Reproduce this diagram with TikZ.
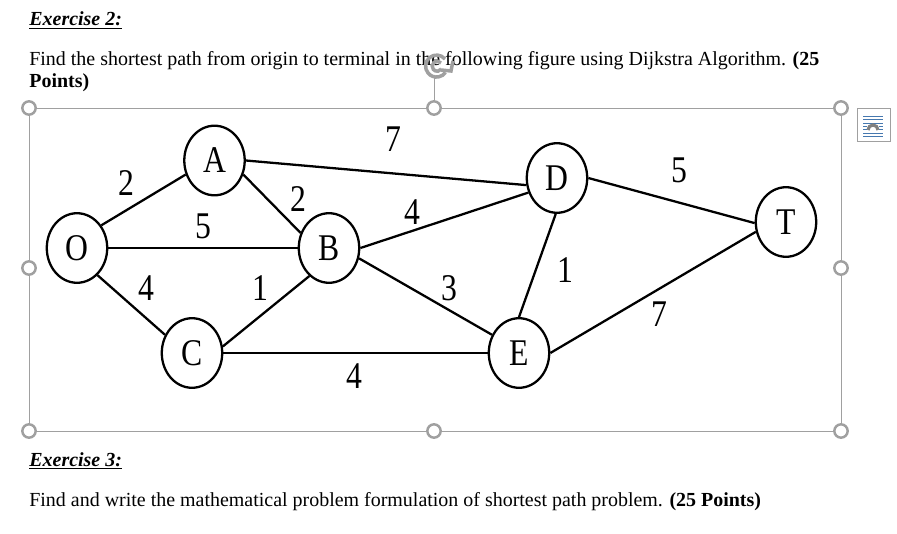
\documentclass[tikz,border=0pt]{standalone}
\usepackage{fontspec}
\usepackage{graphicx}
\setmainfont{Liberation Serif}
\usetikzlibrary{shapes.geometric}
\definecolor{handlegray}{RGB}{160,160,160}
\definecolor{iconblue}{RGB}{70,120,175}
\newcommand{\vlabel}[1]{\scalebox{0.95}[1.13]{#1}}
\newcommand{\wlabel}[1]{\scalebox{0.95}[1.13]{#1}}
\tikzset{
	vertex/.style={draw, ellipse, line width=1.3pt, minimum width=34.4pt, minimum height=39.6pt, inner sep=0pt, font=\fontsize{19}{19}\selectfont},
	edge/.style={line width=1.3pt},
	weight/.style={inner sep=0pt, font=\fontsize{19}{19}\selectfont},
	para/.style={anchor=base west, inner sep=0pt, font=\fontsize{11.36}{11.36}\selectfont},
	handle/.style={draw=handlegray, fill=white, circle, line width=1.4pt, minimum size=7.6pt, inner sep=0pt},
	frameline/.style={draw=handlegray, line width=0.5pt},
	rotline/.style={handlegray, line width=2pt}
}
\begin{document}
\begin{tikzpicture}[x=0.02cm, y=-0.02cm]
	\useasboundingbox (0,0) rectangle (897,534);
	%text above
	\node[para] (ex2) at (29,25.5) {\textbf{\textit{\underline{Exercise 2:}}}};
	\node[para] (find1) at (29,65) {Find the shortest path from origin to terminal in the following figure using Dijkstra Algorithm. \textbf{(25}};
	\node[para] (find2) at (29,88) {\textbf{Points)}};
	
	%selection frame
	\draw[frameline] (29,108) rectangle (841,431);
	\coordinate (rot) at (434,78);
	\draw[frameline] (rot) -- (434,108);
	\foreach \n/\x/\y in {tl/29/108, tm/434/108, tr/841/108, ml/29/268, mr/841/268, bl/29/431, bm/434/431, br/841/431}{
		\node[handle] (h\n) at (\x,\y) {};
	}
	\draw[rotline] (445,59) arc (-40:-325:11);
	\draw[rotline] (441,63) arc (-40:-325:5);
	\draw[rotline] (441,70) -- (451,71) -- (453,61);
	
	%layout icon
	\node[draw=handlegray, fill=white, line width=0.7pt, minimum width=19pt, minimum height=19pt, inner sep=0pt] (icon) at (874,125) {};
	\foreach \y in {116,119,123,133,136}{
		\draw[iconblue, line width=0.5pt] (863,\y) -- (883,\y);
	}
	\foreach \y in {126,129}{
		\draw[iconblue, line width=0.5pt] (863,\y) -- (867,\y) (879,\y) -- (883,\y);
	}
	\draw[gray, line width=1.8pt] (868,130) arc (180:360:5);
	
	%graph
	\node[vertex] (O) at (77,248) {\vlabel{O}};
	\node[vertex] (A) at (214.5,160.5) {\vlabel{A}};
	\node[vertex] (B) at (329,248) {\vlabel{B}};
	\node[vertex] (C) at (192,353) {\vlabel{C}};
	\node[vertex] (D) at (557,178) {\vlabel{D}};
	\node[vertex] (E) at (519,353) {\vlabel{E}};
	\node[vertex] (T) at (786,222) {\vlabel{T}};
	
	\foreach \a/\b in {O.43/A.206, O.0/B.180, O.-53/C.146, A.-26/B.152, A.0/D.193, B.235/C.12, B.0/D.207, B.-19/E.146, C.0/E.180, D.268/E.90, D.0/T.182, E.0/T.198}{
		\draw[edge] (\a) -- (\b);
	}
	
	\node[weight] (wOA) at (126,183) {\wlabel{2}};
	\node[weight] (wOB) at (203,226) {\wlabel{5}};
	\node[weight] (wOC) at (146,288) {\wlabel{4}};
	\node[weight] (wAB) at (298,199) {\wlabel{2}};
	\node[weight] (wAD) at (393,139) {\wlabel{7}};
	\node[weight] (wBC) at (260,288) {\wlabel{1}};
	\node[weight] (wBD) at (412,212) {\wlabel{4}};
	\node[weight] (wBE) at (449,288) {\wlabel{3}};
	\node[weight] (wCE) at (354,376) {\wlabel{4}};
	\node[weight] (wDE) at (565,270) {\wlabel{1}};
	\node[weight] (wDT) at (679,170) {\wlabel{5}};
	\node[weight] (wET) at (659,314) {\wlabel{7}};
	
	%text below
	\node[para] (ex3) at (29,466) {\textbf{\textit{\underline{Exercise 3:}}}};
	\node[para] (find3) at (29,506) {Find and write the mathematical problem formulation of shortest path problem. \textbf{(25 Points)}};
\end{tikzpicture}
\end{document}
